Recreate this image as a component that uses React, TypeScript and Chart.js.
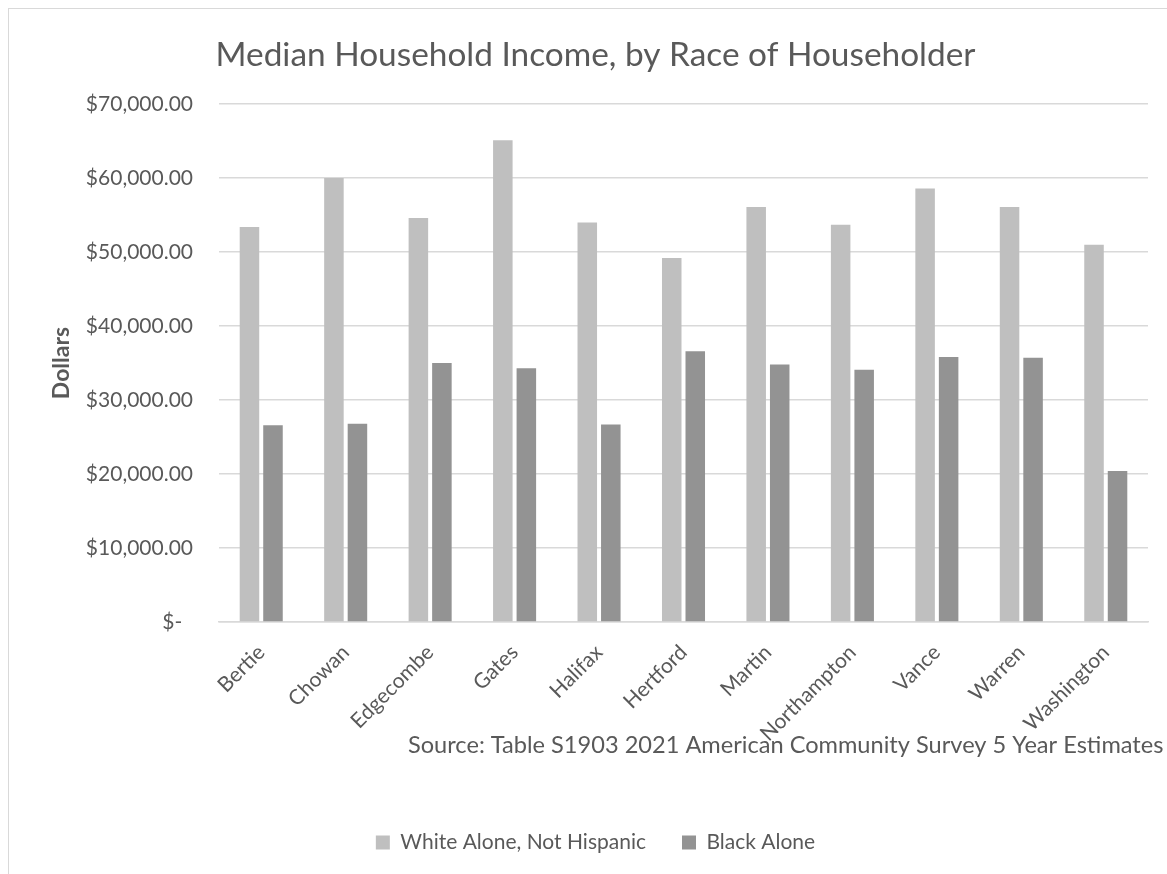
import React, { useEffect, useRef } from "react";
import { Chart, registerables } from "chart.js";

Chart.register(...registerables);

const TITLE = "Median Household Income, by Race of Householder";
const SOURCE_TEXT = "Source: Table S1903 2021 American Community Survey 5 Year Estimates";
const Y_TITLE = "Dollars";
const COUNTIES = ["Bertie", "Chowan", "Edgecombe", "Gates", "Halifax", "Hertford", "Martin", "Northampton", "Vance", "Warren", "Washington"];
const SERIES_NAMES = ["White Alone, Not Hispanic", "Black Alone"];
const WHITE_VALUES = [53400, 60000, 54600, 65100, 54000, 49200, 56100, 53700, 58600, 56100, 51000];
const BLACK_VALUES = [26600, 26800, 35000, 34300, 26700, 36600, 34800, 34100, 35800, 35700, 20400];
const Y_MIN = 0;
const Y_MAX = 70000;
const Y_STEP = 10000;

const TEXT = "#595959";
const GRID = "#D9D9D9";
const FONT = "Lato";

const sourcePlugin = {
  id: "sourceText",
  afterDraw(chart: any) {
    const ctx = chart.ctx;
    ctx.save();
    ctx.font = `23.6px ${FONT}`;
    ctx.fillStyle = TEXT;
    ctx.textAlign = "left";
    ctx.textBaseline = "middle";
    ctx.fillText(SOURCE_TEXT, 399, 736);
    ctx.restore();
  },
};

function fmt(v: number): string {
  if (v === 0) return "$-  ";
  return "$" + v.toLocaleString("en-US", { minimumFractionDigits: 2, maximumFractionDigits: 2 });
}

export default function App() {
  const ref = useRef<HTMLCanvasElement>(null);
  useEffect(() => {
    const chart = new Chart(ref.current!, {
      type: "bar",
      data: {
        labels: COUNTIES,
        datasets: [
          { label: SERIES_NAMES[0], data: WHITE_VALUES, backgroundColor: "#BFBFBF", categoryPercentage: 0.557, barPercentage: 0.83 },
          { label: SERIES_NAMES[1], data: BLACK_VALUES, backgroundColor: "#939393", categoryPercentage: 0.557, barPercentage: 0.83 },
        ],
      },
      options: {
        responsive: false,
        animation: false,
        layout: { padding: { left: 34, right: 20, top: 0, bottom: 12 } },
        plugins: {
          title: {
            display: true,
            text: TITLE,
            color: TEXT,
            font: { family: FONT, size: 33.4, weight: "normal" },
            padding: { top: 26, bottom: 29 },
          },
          legend: {
            position: "bottom",
            labels: {
              color: TEXT,
              font: { family: FONT, size: 21 },
              boxWidth: 14,
              boxHeight: 14,
              padding: 36,
            },
          },
          tooltip: { enabled: false },
        },
        scales: {
          x: {
            grid: { display: false },
            border: { display: true, color: GRID, width: 1.5 },
            ticks: { color: TEXT, font: { family: FONT, size: 21 }, maxRotation: 45, minRotation: 45, autoSkip: false, padding: 10 },
            afterFit(scale: any) { scale.height = 174; },
          },
          y: {
            min: Y_MIN,
            max: Y_MAX,
            grid: { color: GRID, lineWidth: 1.5, drawTicks: false },
            border: { display: false },
            ticks: { stepSize: Y_STEP, color: TEXT, font: { family: FONT, size: 21 }, padding: 26, callback: (v: any) => fmt(Number(v)) },
            title: { display: true, text: Y_TITLE, color: TEXT, font: { family: FONT, size: 23, weight: "bold" }, padding: { top: 5, bottom: 0 } },
            afterFit(scale: any) { scale.width = 176; },
          },
        },
      },
      plugins: [sourcePlugin],
    });
    return () => chart.destroy();
  }, []);
  return (
    <div style={{ position: "fixed", left: 8, top: 8, borderLeft: `1px solid ${GRID}`, borderTop: `1px solid ${GRID}`, width: 1159, height: 866, overflow: "hidden" }}>
      <canvas ref={ref} width={1159} height={866} style={{ display: "block" }} />
    </div>
  );
}
